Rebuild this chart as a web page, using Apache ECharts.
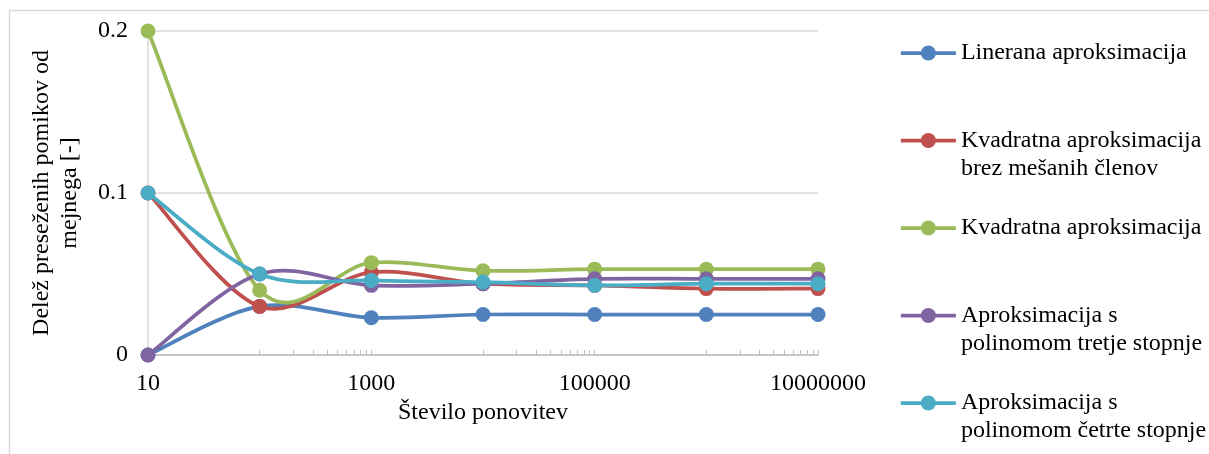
<!DOCTYPE html>
<html>
<head>
<meta charset="utf-8">
<script src="https://cdn.jsdelivr.net/npm/echarts@6/dist/echarts.min.js"></script>
<style>
  html, body { margin: 0; padding: 0; background: #fff; }
  #chart { width: 1209px; height: 454px; }
</style>
</head>
<body>
<div id="chart"></div>
<script>
// Number of repetitions (log axis)
const repetitions = [10, 100, 1000, 10000, 100000, 1000000, 10000000];

// Share of displacements exceeding the limit, per approximation method
const linearna = [0, 0.030, 0.023, 0.025, 0.025, 0.025, 0.025];
const kvadratnaBrezMesanih = [0.1, 0.030, 0.051, 0.044, 0.043, 0.041, 0.041];
const kvadratna = [0.2, 0.040, 0.057, 0.052, 0.053, 0.053, 0.053];
const polinom3 = [0, 0.050, 0.043, 0.044, 0.047, 0.047, 0.047];
const polinom4 = [0.1, 0.050, 0.046, 0.045, 0.043, 0.044, 0.044];

const seriesNames = [
  'Linerana aproksimacija',
  'Kvadratna aproksimacija brez mešanih členov',
  'Kvadratna aproksimacija',
  'Aproksimacija s polinomom tretje stopnje',
  'Aproksimacija s polinomom četrte stopnje'
];
// Legend text, wrapped into lines
const legendLines = [
  ['Linerana aproksimacija'],
  ['Kvadratna aproksimacija', 'brez mešanih členov'],
  ['Kvadratna aproksimacija'],
  ['Aproksimacija s', 'polinomom tretje stopnje'],
  ['Aproksimacija s', 'polinomom četrte stopnje']
];
const seriesColors = ['#4F81BD', '#C0504D', '#9BBB59', '#8064A2', '#4BACC6'];

// Axis ticks and labels
const xLabelValues = [10, 1000, 100000, 10000000];
const xTickValues = [
  100, 200, 300, 400, 500, 600, 700, 800, 900, 1000,
  10000, 20000, 30000, 40000, 50000, 60000, 70000, 80000, 90000, 100000,
  1000000, 2000000, 3000000, 4000000, 5000000, 6000000, 7000000, 8000000, 9000000, 10000000
];
const yTicks = [0, 0.1, 0.2];

const allValues = [linearna, kvadratnaBrezMesanih, kvadratna, polinom3, polinom4];

const FONT = '"Liberation Serif", "Times New Roman", serif';
const LINE_WIDTH = 3.75;

const chart = echarts.init(document.getElementById('chart'), null, { renderer: 'canvas' });

// Each legend entry is padded to three lines so the icon sits on the first text line
const legendText = {};
seriesNames.forEach((n, i) => {
  const lines = legendLines[i];
  legendText[n] = '\n' + lines[0] + '\n' + (lines[1] || '');
});

// Smoothed curve through the projected points (Catmull-Rom as cubic Bezier segments)
function smoothPath(pts) {
  let d = 'M' + pts[0][0] + ' ' + pts[0][1];
  for (let i = 0; i < pts.length - 1; i++) {
    const p0 = pts[Math.max(i - 1, 0)];
    const p1 = pts[i];
    const p2 = pts[i + 1];
    const p3 = pts[Math.min(i + 2, pts.length - 1)];
    const c1x = p1[0] + (p2[0] - p0[0]) / 6;
    const c1y = p1[1] + (p2[1] - p0[1]) / 6;
    const c2x = p2[0] - (p3[0] - p1[0]) / 6;
    const c2y = p2[1] - (p3[1] - p1[1]) / 6;
    d += ' C' + c1x + ' ' + c1y + ' ' + c2x + ' ' + c2y + ' ' + p2[0] + ' ' + p2[1];
  }
  return d;
}

const curveSeries = allValues.map((vals, k) => ({
  type: 'custom',
  id: 'curve' + k,
  coordinateSystem: 'cartesian2d',
  silent: true,
  z: 2 + 2 * k,
  data: [[repetitions[0], vals[0]]],
  renderItem: (params, api) => {
    const pts = repetitions.map((x, j) => api.coord([x, vals[j]]));
    return {
      type: 'path',
      shape: { pathData: smoothPath(pts) },
      style: { fill: 'none', stroke: seriesColors[k], lineWidth: LINE_WIDTH, lineJoin: 'round', lineCap: 'round' }
    };
  }
}));

const markerSeries = seriesNames.map((name, i) => ({
  name,
  type: 'line',
  data: repetitions.map((x, j) => [x, allValues[i][j]]),
  symbol: 'circle',
  symbolSize: 15,
  color: seriesColors[i],
  lineStyle: { width: LINE_WIDTH, color: seriesColors[i], opacity: 0 },
  itemStyle: { color: seriesColors[i] },
  z: 3 + 2 * i
}));

chart.setOption({
  backgroundColor: '#fff',
  animation: false,
  graphic: [{
    type: 'rect',
    shape: { x: 9.5, y: 10.5, width: 1300, height: 500 },
    style: { fill: 'none', stroke: '#d9d9d9', lineWidth: 1.5 },
    silent: true,
    z: -1
  }],
  grid: { left: 148, right: 391, top: 31, bottom: 99, containLabel: false },
  legend: {
    orient: 'vertical',
    left: 899,
    top: 11,
    padding: 0,
    itemGap: 3.5,
    itemWidth: 55,
    itemHeight: 19,
    data: seriesNames,
    formatter: name => legendText[name],
    lineStyle: { opacity: 1, width: LINE_WIDTH },
    textStyle: { fontFamily: FONT, fontSize: 24, color: '#000', lineHeight: 28 }
  },
  xAxis: {
    type: 'log',
    logBase: 10,
    min: 10,
    max: 10000000,
    name: 'Število ponovitev',
    nameLocation: 'middle',
    nameGap: 46,
    nameTextStyle: { fontFamily: FONT, fontSize: 24, color: '#000' },
    axisLine: { show: true, lineStyle: { color: '#bfbfbf', width: 1.5 } },
    axisTick: {
      show: true,
      inside: true,
      length: 5,
      customValues: xTickValues,
      lineStyle: { color: '#bfbfbf', width: 1 }
    },
    minorTick: { show: false },
    splitLine: { show: false },
    axisLabel: {
      customValues: xLabelValues,
      formatter: v => String(Math.round(v)),
      fontFamily: FONT,
      fontSize: 24,
      color: '#000',
      margin: 17
    }
  },
  yAxis: {
    type: 'value',
    min: 0,
    max: 0.2,
    interval: 0.1,
    name: 'Delež preseženih pomikov od\nmejnega [-]',
    nameLocation: 'middle',
    nameGap: 64,
    nameTextStyle: { fontFamily: FONT, fontSize: 24, color: '#000', lineHeight: 28 },
    axisLine: { show: true, lineStyle: { color: '#d9d9d9', width: 1.5 } },
    axisTick: { show: false },
    splitLine: { show: true, lineStyle: { color: '#d9d9d9', width: 1.5 } },
    axisLabel: {
      customValues: yTicks,
      formatter: v => String(Math.round(v * 10) / 10),
      fontFamily: FONT,
      fontSize: 24,
      color: '#000',
      margin: 20
    }
  },
  series: curveSeries.concat(markerSeries)
});
</script>
</body>
</html>
